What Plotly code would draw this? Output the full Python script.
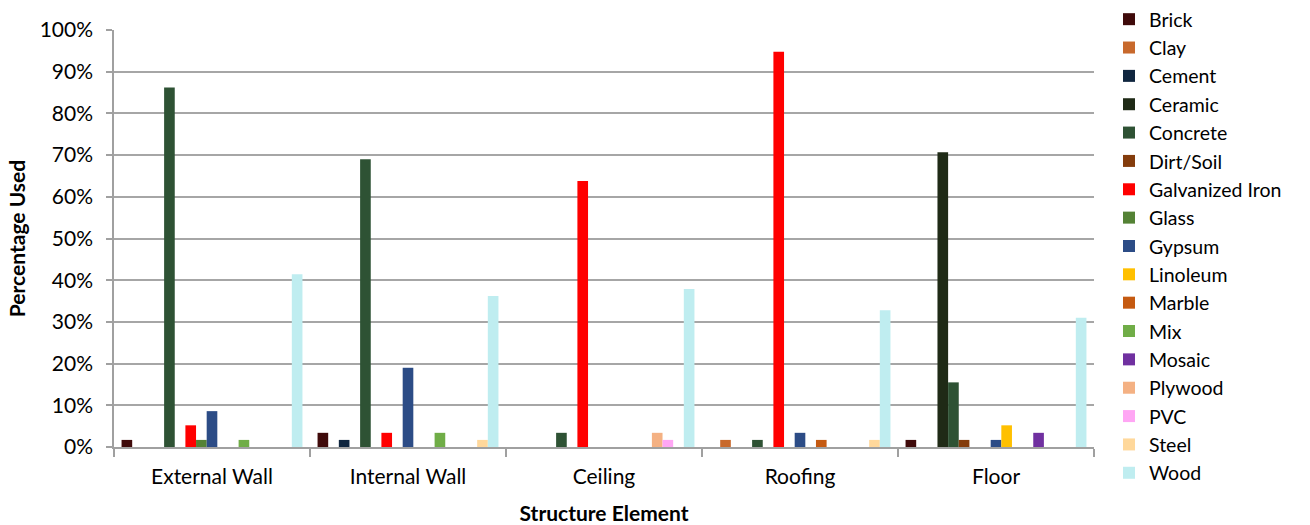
import plotly.graph_objects as go

categories = ["External Wall", "Internal Wall", "Ceiling", "Roofing", "Floor"]

materials = ["Brick", "Clay", "Cement", "Ceramic", "Concrete", "Dirt/Soil",
             "Galvanized Iron", "Glass", "Gypsum", "Linoleum", "Marble", "Mix",
             "Mosaic", "Plywood", "PVC", "Steel", "Wood"]

# Percentage of respondents using each material, per structure element
brick = [1.7, 3.4, 0, 0, 1.7]
clay = [0, 0, 0, 1.7, 0]
cement = [0, 1.7, 0, 0, 0]
ceramic = [0, 0, 0, 0, 70.7]
concrete = [86.2, 69.0, 3.4, 1.7, 15.5]
dirt_soil = [0, 0, 0, 0, 1.7]
galvanized_iron = [5.2, 3.4, 63.8, 94.8, 0]
glass = [1.7, 0, 0, 0, 0]
gypsum = [8.6, 19.0, 0, 3.4, 1.7]
linoleum = [0, 0, 0, 0, 5.2]
marble = [0, 0, 0, 1.7, 0]
mix = [1.7, 3.4, 0, 0, 0]
mosaic = [0, 0, 0, 0, 3.4]
plywood = [0, 0, 3.4, 0, 0]
pvc = [0, 0, 1.7, 0, 0]
steel = [0, 1.7, 0, 1.7, 0]
wood = [41.4, 36.2, 37.9, 32.8, 31.0]

series = [brick, clay, cement, ceramic, concrete, dirt_soil, galvanized_iron,
          glass, gypsum, linoleum, marble, mix, mosaic, plywood, pvc, steel, wood]

colors = ["#3F0A0A", "#C8692C", "#10263F", "#1F2A16", "#2E5234", "#843C0C",
          "#FF0000", "#548235", "#2C4C86", "#FFC000", "#C55A11", "#70AD47",
          "#7030A0", "#F4B183", "#FFA6F4", "#FFD89B", "#BFEDF0"]

FONT = "Lato, 'Open Sans', sans-serif"
FS = 21

fig = go.Figure()
for name, vals, col in zip(materials, series, colors):
    fig.add_trace(go.Bar(
        x=categories, y=vals, name=name,
        marker=dict(color=col, line=dict(width=0)),
    ))

fig.update_layout(
    width=1310, height=525,
    margin=dict(l=114, r=216, t=30, b=78, autoexpand=False),
    paper_bgcolor="white", plot_bgcolor="white",
    barmode="group", bargap=0.077, bargroupgap=0,
    font=dict(family=FONT, size=FS, color="#000000"),
    showlegend=True,
    legend=dict(
        xref="container", yref="container",
        x=1109 / 1310, xanchor="left", y=1.004, yanchor="top",
        font=dict(family=FONT, size=19.5, color="#000000"),
        itemwidth=30, tracegroupgap=0, maxheight=1.0,
        bgcolor="rgba(0,0,0,0)",
    ),
    xaxis=dict(
        type="category", automargin=False,
        tickson="boundaries", ticks="outside", ticklen=8, tickcolor="#A0A0A0",
        tickwidth=1.5, ticklabelstandoff=10,
        showline=True, linecolor="#A0A0A0", linewidth=1.5,
        showgrid=False,
        tickfont=dict(family=FONT, size=FS),
        title=dict(text="<b>Structure Element</b>", font=dict(family=FONT, size=FS), standoff=19),
    ),
    yaxis=dict(
        range=[0, 100], dtick=10, ticksuffix="%", automargin=False,
        ticks="outside", ticklen=6, tickcolor="#A0A0A0", tickwidth=1.5,
        ticklabelstandoff=9,
        showline=True, linecolor="#A0A0A0", linewidth=1.5,
        showgrid=True, gridcolor="#A6A6A6", gridwidth=1.5,
        zeroline=False,
        tickfont=dict(family=FONT, size=FS),
        title=dict(text="<b>Percentage Used</b>", font=dict(family=FONT, size=FS), standoff=8),
    ),
)

fig.write_html("out.html")
